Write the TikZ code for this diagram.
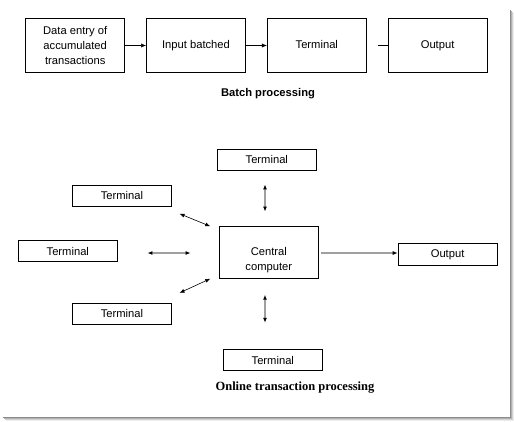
\documentclass[tikz,border=0pt]{standalone}
\usepackage{fontspec}
\setmainfont{Liberation Serif}
\setsansfont{Liberation Sans}
\usetikzlibrary{positioning, arrows.meta, calc}
\tikzset{
    box/.style={draw, thick, font=\sffamily\fontsize{11.2}{15}\selectfont, align=center, inner sep=0pt},
    oneline/.style={text height=1.6ex, text depth=0.45ex},
    batchbox/.append style={box, minimum width=99pt, minimum height=54pt},
    termbox/.append style={box, minimum width=99pt, minimum height=21pt},
    tip/.style={-{Latex[length=5pt,width=4pt]}},
    link/.style={{Latex[length=5pt,width=4pt,black]}-{Latex[length=5pt,width=4pt,black]}, draw=gray!75, line width=1.1pt},
    thinlink/.style={{Latex[length=5pt,width=4pt]}-{Latex[length=5pt,width=4pt]}, semithick},
}

\begin{document}
\begin{tikzpicture}[x=1pt, y=-1pt]
    \useasboundingbox (0,0) rectangle (514,421);
    \tikzset{node distance=21pt}

    % drop shadow of the frame
    \draw[gray!90, line width=1pt] (510.5,10) -- (510.5,417.5) -- (3,417.5);
    \draw[gray!60, line width=1pt] (511.5,11) -- (511.5,418.5) -- (4,418.5);
    \draw[gray!35, line width=1pt] (512.5,12) -- (512.5,419.5) -- (5,419.5);
    \draw[gray!15, line width=1pt] (513.5,13) -- (513.5,420.5) -- (6,420.5);

    % batch processing
    \node[batchbox] (entry) at (75.2,45.5) {Data entry of\\accumulated\\transactions};
    \node[batchbox, oneline, right=of entry] (batched) {Input batched};
    \node[batchbox, oneline, right=of batched] (term) {Terminal};
    \node[batchbox, oneline, right=of term] (out) {Output};
    \coordinate[left=10pt of out.west] (gap);

    \draw[tip] (entry) -- (batched);
    \draw[tip] (batched) -- (term);
    \draw (gap) -- (out.west);

    \node[font=\sffamily\bfseries\fontsize{11.2}{13}\selectfont] (batchlbl) at (268,94) {Batch processing};

    % online transaction processing
    \node[box, minimum width=99pt, minimum height=51.6pt, text height=36.3pt, text depth=0pt] (cpu) at (268.8,252.5) {Central\\computer};
    \node[termbox] (tn) at (266.8,159.8) {Terminal};
    \node[termbox] (tnw) at (122,195.8) {Terminal};
    \node[termbox] (tw) at (67.8,251.3) {Terminal};
    \node[termbox] (tsw) at (122,313.8) {Terminal};
    \node[termbox] (ts) at (272.8,360.3) {Terminal};
    \node[termbox, minimum height=21.6pt, right=79pt of cpu.east, anchor=west, yshift=-2pt] (cpuout) {Output};

    \draw[link] ([xshift=-1.8pt,yshift=-13.7pt]tn.south) -- ([xshift=-3.8pt,yshift=14.7pt]cpu.north);
    \draw[link] ([xshift=-3.8pt,yshift=-16pt]cpu.south) -- ([xshift=-7.8pt,yshift=26.6pt]ts.north);
    \draw[link] ([xshift=29.7pt,yshift=-1.7pt]tw.east) -- ([xshift=-28.3pt,yshift=-0.5pt]cpu.west);
    \draw[thinlink] ([xshift=7.6pt,yshift=-7pt]tnw.south east) -- ([xshift=-8.6pt]cpu.north west);
    \draw[thinlink] ([xshift=7.6pt,yshift=10pt]tsw.north east) -- ([xshift=-8.6pt]cpu.south west);
    \draw[-{Latex[length=5pt,width=4pt,black]}, draw=gray!75, line width=1.1pt]
        ([xshift=2.7pt,yshift=-0.5pt]cpu.east) -- ([yshift=1.5pt]cpuout.west);

    \node[font=\rmfamily\bfseries\fontsize{12.5}{14}\selectfont] (onlinelbl) at (295,387.7) {Online transaction processing};
\end{tikzpicture}
\end{document}
